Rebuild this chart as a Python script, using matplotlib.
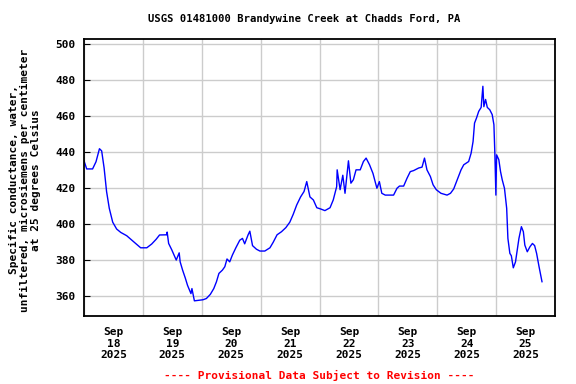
import matplotlib
matplotlib.use('Agg')
import matplotlib.pyplot as plt
import numpy as np
import pandas as pd

# hours since 2025-09-18 00:00 and specific conductance (uS/cm)
hours = [0.0, 1.1, 3.5, 4.9, 6.3, 7.2, 8.2, 9.2, 10.3, 11.7, 13.3, 15.0, 17.4, 19.5,
         21.3, 23.1, 25.6, 27.6, 29.4, 30.8, 33.8, 33.9, 34.5, 35.8, 37.6, 38.8,
         39.2, 40.2, 41.3, 42.2, 43.6, 44.0, 45.0, 48.5, 49.9, 51.5, 52.9, 54.0,
         55.0, 56.4, 57.4, 58.3, 59.4, 60.5, 61.9, 63.5, 64.6, 65.5, 66.9, 67.6,
         68.7, 70.3, 71.7, 73.7, 75.8, 77.1, 78.7, 80.5, 82.3, 83.9, 85.3, 86.7,
         88.3, 89.7, 90.8, 92.1, 93.5, 94.9, 96.5, 98.2, 100.3, 101.6, 103.0,
         103.2, 104.4, 105.5, 106.4, 107.1, 107.8, 108.8, 109.8, 110.9, 112.6,
         113.9, 115.0, 116.4, 117.8, 118.7, 119.4, 120.4, 121.4, 122.8, 124.8,
         126.2, 127.6, 128.6, 130.3, 131.7, 133.0, 134.4, 136.4, 137.8, 138.8,
         139.8, 141.2, 142.3, 143.6, 145.5, 148.0, 149.4, 150.7, 152.1, 153.7,
         154.8, 156.8, 157.8, 158.6, 159.2, 160.0, 160.9, 161.9, 162.6, 163.0,
         163.7, 164.4, 165.4, 166.4, 167.1, 167.5, 167.9, 168.2, 169.1, 169.8,
         170.5, 171.4, 172.3, 172.8, 173.6, 174.2, 175.0, 175.9, 176.6, 177.3,
         178.3, 179.1, 179.7, 180.7, 181.8, 182.8, 183.7, 184.5, 185.5, 186.7]
values = [435, 430.5, 430.5, 434.5, 441.7, 440.5, 431, 418, 408.7, 401, 397.2, 395.3,
          393.5, 391, 388.9, 386.8, 386.8, 388.9, 391.5, 393.9, 394, 395.5, 389.2,
          385.6, 380, 384, 379, 374.4, 370, 366, 361.4, 364.2, 357.4, 358, 358.7,
          361, 364.2, 368, 372.6, 374.4, 376.3, 380.6, 379, 382.8, 386.8, 391, 392,
          389, 394, 396, 388, 386, 385, 385, 386.8, 389.8, 394, 395.7, 398, 401,
          405.4, 410.5, 415, 418, 423.5, 415, 413.3, 409, 408.3, 407.4, 409, 413.3,
          420.7, 430, 419, 427, 417, 426.3, 435, 422.6, 424.5, 430, 430, 434.6,
          436.5, 432.8, 428, 423.5, 419.8, 423.5, 417, 416, 416, 416, 419.8, 421,
          421, 425.4, 429, 429.6, 431, 431.5, 436.5, 430, 426.3, 421.7, 419, 417,
          416, 417, 419.4, 424.4, 430, 432.8, 434.6, 439.2, 445.7, 455.9, 458.7,
          462.4, 464.6, 476.3, 465, 469, 464.6, 463.3, 460.6, 455, 438.3, 416,
          438.3, 435.6, 429, 424.4, 419.8, 408.7, 392, 383.7, 382.4, 375.7, 379,
          385.6, 392, 398.5, 395.7, 388.3, 384.6, 387.4, 389.2, 388, 383.7, 376.3,
          368]

start = pd.Timestamp('2025-09-18')
times = start + pd.to_timedelta(hours, unit='h')

days = pd.date_range('2025-09-18', '2025-09-26', freq='D')
noons = days[:-1] + pd.Timedelta(hours=12)
day_labels = [f'Sep\n{d.day}\n2025' for d in noons]
yticks = [360, 380, 400, 420, 440, 460, 480, 500]

font = {'family': 'DejaVu Sans Mono', 'weight': 'bold', 'size': 8}
title_font = dict(font, size=7.6)

fig = plt.figure(figsize=(5.76, 3.84), dpi=100)
ax = fig.add_axes([84/576, 68/384, 471/576, 277/384])

ax.plot(times, values, color='#0000ff', linewidth=1)

ax.set_xlim(days[0], days[-1])
ax.set_ylim(349, 502.5)

ax.set_xticks(days)
ax.set_xticklabels([''] * len(days))
ax.set_xticks(noons, minor=True)
ax.set_xticklabels(day_labels, minor=True, fontdict=font, linespacing=1.2)
ax.tick_params(axis='x', which='both', length=0, pad=8)

ax.set_yticks(yticks)
ax.set_yticklabels([str(v) for v in yticks], fontdict=font)
ax.tick_params(axis='y', length=4, direction='in', pad=6)

ax.grid(True, which='major', color='#cccccc', linewidth=1)
ax.set_axisbelow(True)
for s in ax.spines.values():
    s.set_linewidth(1.3)

fig.text(304/576, 1 - 19/384, 'USGS 01481000 Brandywine Creek at Chadds Ford, PA',
         ha='center', va='center', **title_font)
fig.text(25/576, 1 - 180/384,
         'Specific conductance, water,\nunfiltered, microsiemens per centimeter\nat 25 degrees Celsius',
         rotation=90, ha='center', va='center', multialignment='center',
         linespacing=1.15, **font)
fig.text(319/576, 1 - 375/384, '---- Provisional Data Subject to Revision ----',
         ha='center', va='center', color='#ff0000', **font)

fig.savefig('out.png', dpi=100)
